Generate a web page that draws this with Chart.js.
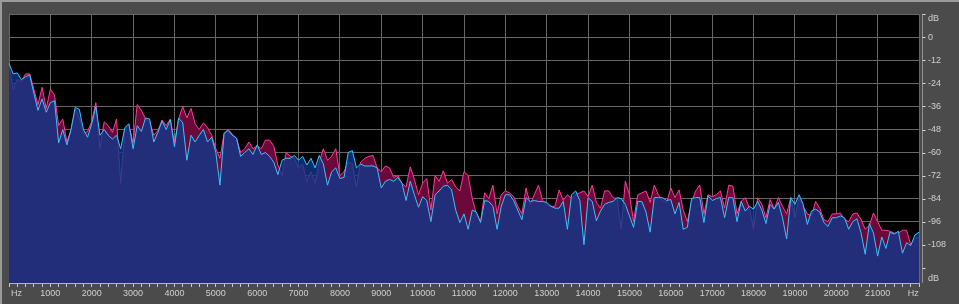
<!DOCTYPE html>
<html>
<head>
<meta charset="utf-8">
<script src="https://cdn.jsdelivr.net/npm/chart.js@4.4.1/dist/chart.umd.min.js"></script>
<style>
  html, body { margin: 0; padding: 0; background: #4b4b4b; }
  canvas { display: block; }
</style>
</head>
<body>
<canvas id="chart1" width="959" height="304"></canvas>
<script>
// espectro: un valor cada 100 Hz, de 0 a 22000 Hz
var binHz = 100;

// canal izquierdo (rosa), dB
var levelsLeft = [
  -14.5, -27, -22, -23, -19, -19, -27, -35, -26, -37,
  -27, -30, -46, -42.5, -54.5, -48, -37.5, -42, -50, -49,
  -44, -34, -58, -44, -46, -49.5, -42.5, -76, -48, -46,
  -55, -35, -38, -42.5, -44, -51, -48.5, -43, -46, -42.5,
  -55, -42.5, -36, -42, -37, -45, -48, -44.5, -47, -51,
  -58, -63, -50, -48, -50.5, -52.5, -60, -58, -54.5, -58,
  -56.5, -58, -53.5, -53.5, -56.5, -66.5, -72, -60, -62, -63,
  -68, -66, -75, -70, -76, -65, -58, -64, -62, -58,
  -72, -70, -65, -66, -78, -65, -63, -62, -61.5, -68,
  -70, -67, -68, -73, -72, -76, -78, -67.5, -74, -82,
  -76, -73.5, -90, -72, -75, -69.5, -76, -74, -78, -80,
  -70, -72, -84, -92, -96, -81, -84, -77, -92, -82,
  -80, -81, -83, -88, -92, -78.5, -87, -82, -77, -85,
  -87, -88, -88, -79.5, -85, -82, -84, -82, -81, -80,
  -83, -77, -86, -89, -80, -80, -83.5, -84, -100, -75,
  -82, -96, -82, -81, -80, -86, -77, -82, -85, -86,
  -78.5, -83.5, -79.5, -90, -96, -86, -80, -77, -92, -82,
  -83, -82, -80, -89, -77, -77.5, -92, -85.5, -83.5, -89,
  -100, -83.5, -87, -94, -84.5, -89.5, -83.5, -88, -92, -83.5,
  -94, -84, -88, -92, -93, -85.5, -89, -95, -96, -92,
  -92, -91.5, -95, -96, -92, -91.5, -95, -100, -98, -91.5,
  -96, -100.5, -100.5, -101, -102, -102, -100.5, -100.5, -108, -105,
  -104
];

// canal derecho (cian), dB
var levelsRight = [
  -13.5, -19, -18.5, -22, -20.5, -19.5, -29, -38, -32, -39,
  -34, -33, -55, -48, -56, -48, -36.5, -37.5, -48, -52,
  -45, -36, -51, -48, -51, -53, -51, -58, -47, -45,
  -58, -46, -49, -42, -42.5, -54.5, -49.5, -43.5, -48, -43,
  -57, -42, -44.5, -64, -51, -54.5, -51, -48, -54.5, -52,
  -60, -77, -50, -48.5, -51, -52.5, -62, -60, -58, -61,
  -56, -61, -60, -62, -65, -71.5, -64, -63, -63, -61.5,
  -64, -62, -66.5, -63, -68, -61.5, -66, -77, -70, -68,
  -73.5, -73, -60, -59, -68, -66, -67, -67, -67, -68,
  -78.5, -75, -74, -75, -73, -76, -85, -75, -82, -88.5,
  -83, -85, -96, -82, -80, -77.5, -77, -79.5, -90, -96.5,
  -92, -100, -90, -91, -96.5, -85, -85.5, -88, -100, -88,
  -82, -82, -85, -90, -95, -83.5, -85.5, -85, -85.5, -85.5,
  -86, -88, -89, -89, -85.5, -100, -82, -80, -85, -108,
  -83.5, -85.5, -95.5, -90.5, -87, -86, -85.5, -83.5, -84, -87,
  -93, -99, -85.5, -85.5, -91, -101.5, -83.5, -83.5, -83.5, -85,
  -84.5, -92, -86, -100, -99, -84, -83.5, -83.5, -96.5, -82.5,
  -85, -84, -83.5, -94, -83.5, -83.5, -96, -85.5, -90.5, -88,
  -89.5, -85.5, -90, -97, -87, -89.5, -86, -94, -105, -83.5,
  -87, -82, -87, -97.5, -90.5, -89.5, -91, -96.5, -98.5, -94,
  -94, -93, -94, -100, -96, -94.5, -102, -113, -97, -102,
  -114, -104, -110, -101.5, -102.5, -101, -112.5, -107, -108.5, -103,
  -101.5
];

// marcas de los ejes
var freqLabels = [1000, 2000, 3000, 4000, 5000, 6000, 7000, 8000, 9000, 10000, 11000,
  12000, 13000, 14000, 15000, 16000, 17000, 18000, 19000, 20000, 21000];
var dbLabels = [0, -12, -24, -36, -48, -60, -72, -84, -96, -108];

var hzLeft = 180, hzRight = 21860;   // posiciones de los rótulos "Hz"
var dbTop = 9.6, dbBottom = -125.9;  // posiciones de los rótulos "dB"

function toPoints(values) {
  return values.map(function(v, i) { return { x: i * binHz, y: v }; });
}

var GRID = '#666666';
var TEXT = '#d0d0d0';
var FONT = { family: "'Liberation Sans', Arial, sans-serif", size: 9 };

var framePlugin = {
  id: 'frame',
  beforeDraw: function(chart) {
    var c = chart.ctx, a = chart.chartArea;
    c.save();
    c.fillStyle = '#4b4b4b';
    c.fillRect(0, 0, chart.width, chart.height);
    c.fillStyle = '#9a9a9a';
    c.fillRect(0, 0, chart.width, 2);
    c.fillRect(0, 0, 2, chart.height);
    c.fillStyle = '#000000';
    c.fillRect(a.left, a.top, a.right - a.left, a.bottom - a.top);
    c.restore();
  },
  afterDraw: function(chart) {
    // regla punteada del eje dB
    var c = chart.ctx, a = chart.chartArea, y = chart.scales.y;
    var x0 = a.right + 3.5;
    c.save();
    c.strokeStyle = '#d8d8d8';
    c.lineWidth = 1;
    c.setLineDash([1, 1]);
    c.beginPath();
    c.moveTo(x0, a.top);
    c.lineTo(x0, a.bottom);
    c.stroke();
    c.setLineDash([]);
    c.beginPath();
    [12].concat(dbLabels, [-120]).forEach(function(v) {
      var py = Math.round(y.getPixelForValue(v)) + 0.5;
      c.moveTo(x0, py);
      c.lineTo(x0 + 3, py);
    });
    c.stroke();
    c.restore();
  }
};

var ctx1 = document.getElementById('chart1').getContext('2d');
var chart1 = new Chart(ctx1, {
  type: 'line',
  data: {
    datasets: [{
      label: 'L',
      data: toPoints(levelsLeft),
      order: 2,
      fill: 'start',
      backgroundColor: '#6b0a3a',
      borderColor: '#ff3a98',
      borderWidth: 1,
      pointRadius: 0,
      tension: 0
    }, {
      label: 'R',
      data: toPoints(levelsRight),
      order: 1,
      fill: 'start',
      backgroundColor: 'rgba(14, 56, 140, 0.78)',
      borderColor: '#38c4ff',
      borderWidth: 1,
      pointRadius: 0,
      tension: 0
    }]
  },
  options: {
    responsive: false,
    animation: false,
    devicePixelRatio: 1,
    layout: { padding: { left: 9, top: 10, right: 0, bottom: 0 } },
    plugins: { legend: { display: false }, tooltip: { enabled: false } },
    scales: {
      x: {
        type: 'linear',
        min: 0,
        max: 22000,
        afterBuildTicks: function(scale) {
          var t = [];
          for (var v = 0; v <= 22000; v += 200) t.push({ value: v });
          t.push({ value: hzLeft }, { value: hzRight });
          t.sort(function(a, b) { return a.value - b.value; });
          scale.ticks = t;
        },
        afterFit: function(scale) { scale.height = 21; },
        ticks: {
          autoSkip: false,
          maxRotation: 0,
          padding: 1,
          color: TEXT,
          font: FONT,
          callback: function(v) {
            if (v === hzLeft || v === hzRight) return 'Hz';
            return freqLabels.indexOf(v) >= 0 ? String(v) : '';
          }
        },
        grid: {
          drawTicks: true,
          tickLength: 4,
          color: function(ctx) {
            var v = ctx.tick ? ctx.tick.value : -1;
            return v % 1000 === 0 ? GRID : 'rgba(0,0,0,0)';
          },
          tickColor: function(ctx) {
            var v = ctx.tick ? ctx.tick.value : -1;
            return v % 200 === 0 ? '#c8c8c8' : 'rgba(0,0,0,0)';
          }
        },
        border: { display: true, color: '#b4b4b4' }
      },
      y: {
        type: 'linear',
        position: 'right',
        min: -128,
        max: 12,
        afterBuildTicks: function(scale) {
          var t = [{ value: dbTop }, { value: 12 }];
          dbLabels.forEach(function(v) { t.push({ value: v }); });
          t.push({ value: -120 }, { value: dbBottom });
          scale.ticks = t;
        },
        afterFit: function(scale) { scale.width = 40; },
        ticks: {
          autoSkip: false,
          padding: 9,
          color: TEXT,
          font: FONT,
          callback: function(v) {
            if (v === dbTop || v === dbBottom) return 'dB';
            return dbLabels.indexOf(v) >= 0 ? String(v) : '';
          }
        },
        grid: {
          drawTicks: false,
          color: function(ctx) {
            var v = ctx.tick ? ctx.tick.value : 0;
            return (v === dbTop || v === dbBottom) ? 'rgba(0,0,0,0)' : GRID;
          }
        },
        border: { display: false }
      }
    }
  },
  plugins: [framePlugin]
});
</script>
</body>
</html>
